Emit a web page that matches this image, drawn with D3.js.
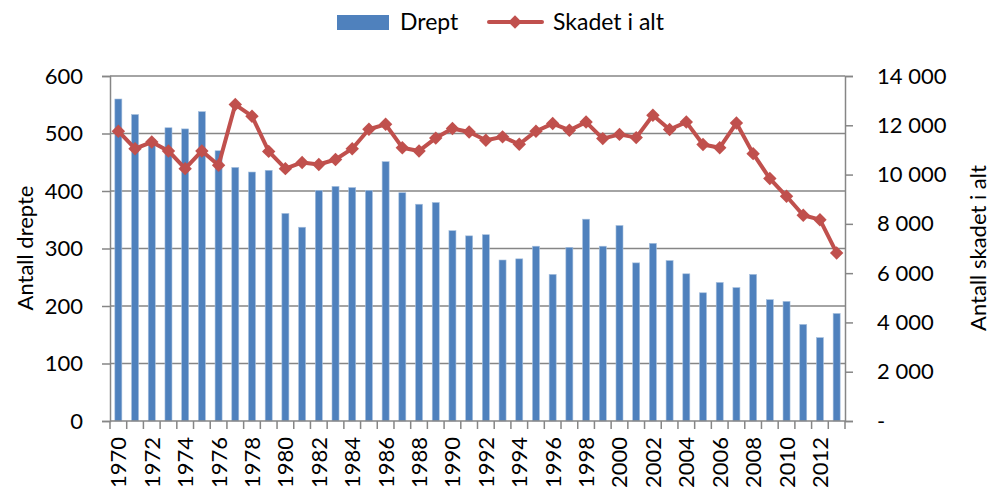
<!DOCTYPE html>
<html>
<head>
<meta charset="utf-8">
<script src="https://cdn.jsdelivr.net/npm/d3@7"></script>
<style>
  body { margin: 0; background: #fff; }
  text { font-family: Lato, "Open Sans", sans-serif; fill: #000; }
</style>
</head>
<body>
<div id="chart"></div>
<script>
// Data
const years = d3.range(1970, 2014);
const drept = [560, 533, 490, 510, 508, 538, 470, 441, 433, 436,
               361, 337, 401, 408, 406, 401, 451, 397, 377, 380,
               331, 322, 324, 280, 282, 304, 255, 302, 351, 304,
               340, 275, 309, 279, 256, 223, 241, 232, 255, 211,
               208, 168, 145, 187];
const skadet = [11760, 11050, 11320, 10960, 10240, 10960, 10380, 12840, 12370, 10940,
                10240, 10490, 10410, 10610, 11050, 11840, 12040, 11090, 10960, 11480,
                11870, 11730, 11390, 11530, 11230, 11760, 12070, 11800, 12130, 11460,
                11630, 11500, 12410, 11830, 12130, 11220, 11090, 12090, 10850, 9840,
                9120, 8350, 8170, 6820];
const leftTicks = [0, 100, 200, 300, 400, 500, 600];
const rightTicks = [0, 2000, 4000, 6000, 8000, 10000, 12000, 14000];

const W = 992, H = 491;
const plot = { left: 110, right: 845, top: 76, bottom: 421 };
const blue = '#4F81BD', red = '#C0504D', grid = '#868686';
const fs = '22px';

const svg = d3.select('#chart').append('svg')
    .attr('width', W).attr('height', H);

// Scales
const x = d3.scaleBand().domain(years).range([plot.left, plot.right]).paddingInner(0.58).paddingOuter(0.29);
const xb = d3.scaleBand().domain(years).range([plot.left, plot.right]);
const yL = d3.scaleLinear().domain([0, 600]).range([plot.bottom, plot.top]);
const yR = d3.scaleLinear().domain([0, 14000]).range([plot.bottom, plot.top]);

// Gridlines
svg.append('g')
    .selectAll('line')
    .data(leftTicks.slice(1))
    .join('line')
    .attr('x1', plot.left).attr('x2', plot.right)
    .attr('y1', d => yL(d)).attr('y2', d => yL(d))
    .attr('stroke', grid).attr('stroke-width', 1.5);

// Bars
svg.append('g')
    .selectAll('rect')
    .data(years)
    .join('rect')
    .attr('x', d => x(d))
    .attr('width', x.bandwidth())
    .attr('y', (d, i) => yL(drept[i]))
    .attr('height', (d, i) => plot.bottom - yL(drept[i]))
    .attr('fill', blue)
    .attr('stroke', '#a7c0de')
    .attr('stroke-width', 0.6);

// Left axis
const axisL = svg.append('g')
    .attr('transform', `translate(${plot.left},0)`)
    .call(d3.axisLeft(yL).tickValues(leftTicks).tickSize(8).tickPadding(19))
    .attr('font-size', fs);
axisL.select('.domain').attr('stroke', grid).attr('stroke-width', 1.5);
axisL.selectAll('.tick line').attr('stroke', grid).attr('stroke-width', 1.5);
axisL.selectAll('.tick text').attr('fill', '#000').attr('font-family', 'Lato, sans-serif');

// Right axis
const axisR = svg.append('g')
    .attr('transform', `translate(${plot.right},0)`)
    .call(d3.axisRight(yR).tickValues(rightTicks).tickSize(8).tickPadding(24))
    .attr('font-size', fs);
axisR.select('.domain').attr('stroke', grid).attr('stroke-width', 1.5);
axisR.selectAll('.tick line').attr('stroke', grid).attr('stroke-width', 1.5);
axisR.selectAll('.tick text').attr('fill', '#000').attr('font-family', 'Lato, sans-serif')
    .text(d => d === 0 ? '-' : d3.format(',')(d).replace(',', ' '));

// X axis baseline and ticks at band boundaries
svg.append('line')
    .attr('x1', plot.left).attr('x2', plot.right)
    .attr('y1', plot.bottom).attr('y2', plot.bottom)
    .attr('stroke', grid).attr('stroke-width', 1.5);
svg.append('g')
    .selectAll('line')
    .data(years.concat([2014]))
    .join('line')
    .attr('x1', d => d === 2014 ? plot.right : xb(d))
    .attr('x2', d => d === 2014 ? plot.right : xb(d))
    .attr('y1', plot.bottom).attr('y2', plot.bottom + 8)
    .attr('stroke', grid).attr('stroke-width', 1.5);

// X labels (even years)
svg.append('g')
    .selectAll('text')
    .data(years.filter(d => d % 2 === 0))
    .join('text')
    .attr('transform', d => `translate(${xb(d) + xb.bandwidth() / 2 + 8},437) rotate(-90)`)
    .attr('text-anchor', 'end')
    .attr('font-size', fs)
    .text(d => d);

// Line
const line = d3.line()
    .x((d, i) => xb(years[i]) + xb.bandwidth() / 2)
    .y(d => yR(d));
svg.append('path')
    .datum(skadet)
    .attr('d', line)
    .attr('fill', 'none')
    .attr('stroke', red)
    .attr('stroke-width', 4)
    .attr('stroke-linejoin', 'round');

const diamond = d3.symbol().type(d3.symbolDiamond2).size(115);
svg.append('g')
    .selectAll('path')
    .data(skadet)
    .join('path')
    .attr('transform', (d, i) => `translate(${xb(years[i]) + xb.bandwidth() / 2},${yR(d)})`)
    .attr('d', diamond)
    .attr('fill', red);

// Axis titles
svg.append('text')
    .attr('transform', `translate(33,248) rotate(-90)`)
    .attr('text-anchor', 'middle')
    .attr('font-size', fs)
    .text('Antall drepte');
svg.append('text')
    .attr('transform', `translate(986,248) rotate(-90)`)
    .attr('text-anchor', 'middle')
    .attr('font-size', fs)
    .text('Antall skadet i alt');

// Legend
svg.append('rect')
    .attr('x', 337).attr('y', 15).attr('width', 52).attr('height', 15)
    .attr('fill', blue);
svg.append('text')
    .attr('x', 400).attr('y', 30)
    .attr('font-size', '23px')
    .text('Drept');
svg.append('line')
    .attr('x1', 489).attr('x2', 542).attr('y1', 22).attr('y2', 22)
    .attr('stroke', red).attr('stroke-width', 4).attr('stroke-linecap', 'round');
svg.append('path')
    .attr('transform', 'translate(515,22)')
    .attr('d', diamond)
    .attr('fill', red);
svg.append('text')
    .attr('x', 553).attr('y', 30)
    .attr('font-size', '23px')
    .text('Skadet i alt');
</script>
</body>
</html>
